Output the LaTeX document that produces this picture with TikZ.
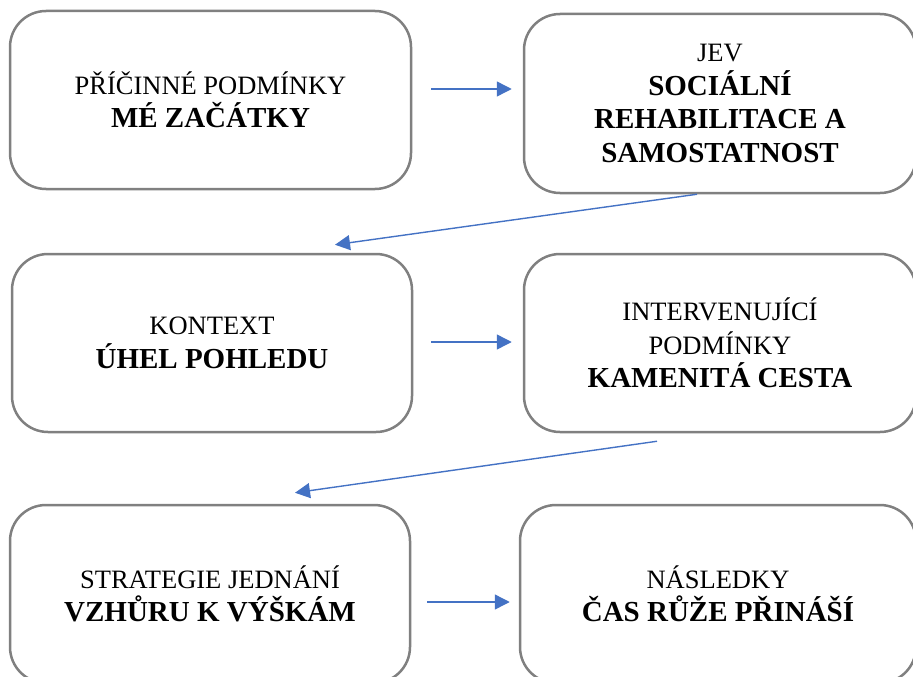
\documentclass[tikz,border=0pt]{standalone}
\usepackage{fontspec}
\setmainfont{Liberation Serif}
\usetikzlibrary{arrows.meta,calc}
\definecolor{boxgray}{RGB}{128,128,128}
\definecolor{arrblue}{RGB}{68,114,196}
\tikzset{
  box/.style={draw=boxgray, line width=2.5pt, rounded corners=36pt, align=center,
    inner sep=0pt, font=\fontsize{26.5}{33.5}\selectfont},
  arr/.style={draw=arrblue, line width=1.4pt, -{Triangle[length=15pt,width=15pt]}},
}
\newcommand{\bt}[1]{{\fontsize{29}{33.5}\selectfont\bfseries #1}}
\begin{document}
\begin{tikzpicture}[x=1pt,y=-1pt]
\useasboundingbox (0,0) rectangle (913,677);
\clip (0,0) rectangle (913,677);
\node[box, minimum width=401pt, minimum height=178pt] (b1) at (210.5,100) {PŘÍČINNÉ PODMÍNKY\\\bt{MÉ ZAČÁTKY}};
\node[box, minimum width=392pt, minimum height=179pt] (b2) at (720,103.5) {JEV\\\bt{SOCIÁLNÍ}\\\bt{REHABILITACE A}\\\bt{SAMOSTATNOST}};
\node[box, minimum width=400pt, minimum height=178pt] (b3) at (212,343) {KONTEXT\\\bt{ÚHEL POHLEDU}};
\node[box, minimum width=392pt, minimum height=178pt] (b4) at (720,343) {INTERVENUJÍCÍ\\PODMÍNKY\\\bt{KAMENITÁ CESTA}};
\node[box, minimum width=400pt, minimum height=178pt] (b5) at (210,594) {STRATEGIE JEDNÁNÍ\\\bt{VZHŮRU K VÝŠKÁM}};
\node[box, minimum width=396pt, minimum height=178pt] (b6) at (718,594) {NÁSLEDKY\\\bt{ČAS RŮŽE PŘINÁŠÍ}};
\draw[arr] ($(b1.east)+(19,-11)$) -- ($(b2.west)+(-11,-14.5)$);
\draw[arr] ($(b2.south)+(-23,0)$) -- ($(b3.north)+(123,-8)$);
\draw[arr] ($(b3.east)+(18,-1)$) -- ($(b4.west)+(-11,-1)$);
\draw[arr] ($(b4.south)+(-63,8)$) -- ($(b5.north)+(85,-11)$);
\draw[arr] ($(b5.east)+(16,8)$) -- ($(b6.west)+(-9,8)$);
\end{tikzpicture}
\end{document}
